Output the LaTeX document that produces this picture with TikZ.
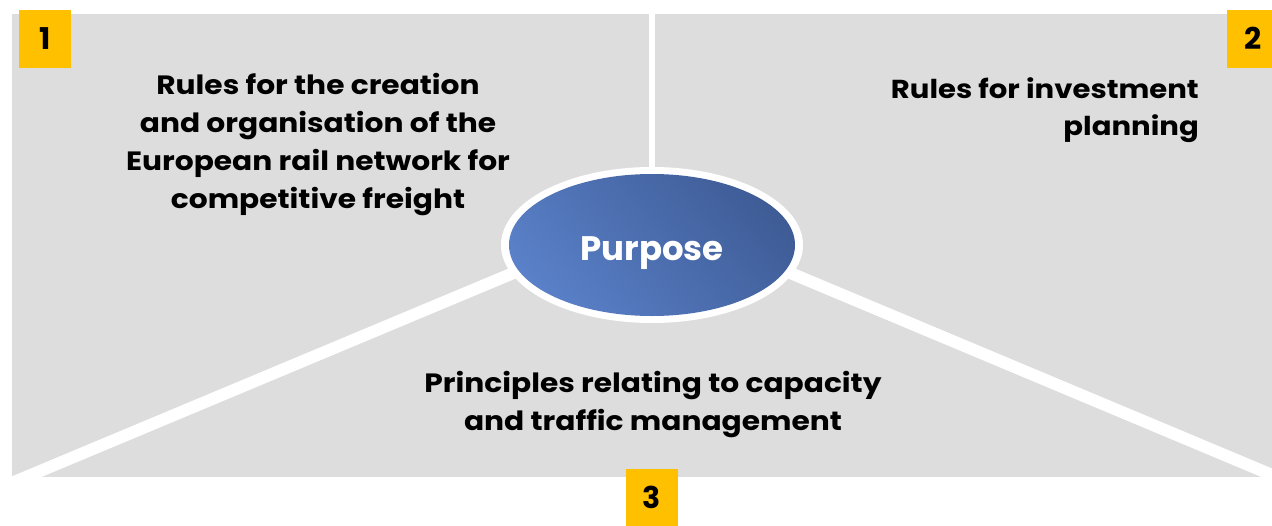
\documentclass[tikz,border=0pt]{standalone}
\usepackage{fontspec}
\setmainfont{Poppins}
\newfontfamily\widefont{Poppins}[FakeStretch=1.12]
\definecolor{panelgray}{RGB}{221,221,221}
\definecolor{numyellow}{RGB}{255,192,0}
\definecolor{bluedark}{RGB}{58,86,142}
\definecolor{bluelight}{RGB}{94,134,208}
\begin{document}
\begin{tikzpicture}[x=1pt,y=-1pt,
  sep/.style={draw=white,line cap=butt},
  numbox/.style={fill=numyellow,minimum width=52pt,minimum height=58pt,inner sep=0pt,
    font=\fontsize{30}{30}\selectfont\bfseries},
  bodytext/.style={inner sep=0pt,font=\widefont\fontsize{26.5}{38}\selectfont\bfseries,text=black}]
\useasboundingbox (0,0) rectangle (1272,525);
% panel
\fill[panelgray] (12,14) rectangle (1272,477);
\begin{scope}
  \clip (12,14) rectangle (1272,477);
  \coordinate (hub) at (652,215);
  \coordinate (ll) at (-100,529.7);
  \coordinate (lr) at (1400,528.6);
  \coordinate (topc) at (652,0);
  \draw[sep,line width=12pt] (hub) -- (ll);
  \draw[sep,line width=12pt] (hub) -- (lr);
  \draw[sep,line width=6pt] (topc) -- (hub);
\end{scope}
% centre ellipse
\fill[white] (652,245) ellipse [x radius=151, y radius=78];
\begin{scope}
  \clip (652,245) ellipse [x radius=143, y radius=71];
  \shade[top color=bluedark,bottom color=bluelight,shading angle=-50]
    (502,95) rectangle (802,395);
\end{scope}
\node[anchor=base,inner sep=0pt,text=white,font=\fontsize{34}{34}\selectfont\bfseries] (purpose) at (652,260) {Purpose};
% texts
\node[bodytext,align=center] (t1) at (318,145) {Rules for the creation\\and organisation of the\\European rail network for\\competitive freight};
\node[bodytext,align=right,anchor=east,font=\widefont\fontsize{26}{36.5}\selectfont\bfseries] (t2) at (1199,110) {Rules for investment\\planning};
\node[bodytext,align=center] (t3) at (653,405) {Principles relating to capacity\\and traffic management};
% number boxes
\node[numbox] (n1) at (45,38.5) {1};
\node[numbox] (n2) at (1253,38.5) {2};
\node[numbox] (n3) at (652,497.5) {3};
\end{tikzpicture}
\end{document}
